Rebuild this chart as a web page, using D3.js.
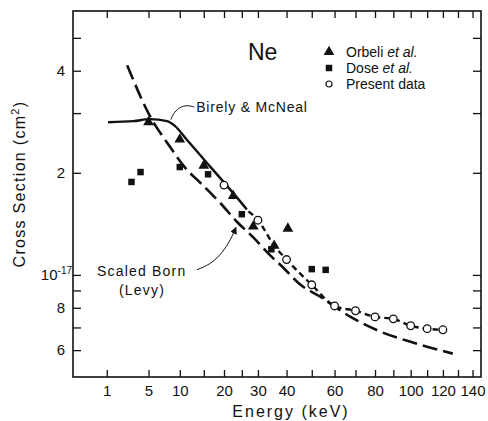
<!DOCTYPE html>
<html>
<head>
<meta charset="utf-8">
<script src="https://cdn.jsdelivr.net/npm/d3@7"></script>
<style>
    body { margin: 0; background: #fff; }
    svg { font-family: "Liberation Sans", Arial, Helvetica, sans-serif; }
</style>
</head>
<body>
<div id="chart"></div>
<script>
// Ne ionization cross section vs. energy
// sigma values are in units of 10^-17 cm^2, energies in keV

// Data
// ---------------------------------------------------------

let orbeliE = [5, 10, 15, 22.5, 28.5, 35.5, 40.5];
let orbeliS = [2.82, 2.51, 2.10, 1.71, 1.39, 1.22, 1.37];

let doseE = [3, 4, 10, 16, 25, 34.5, 50, 56];
let doseS = [1.88, 2.01, 2.08, 1.98, 1.51, 1.19, 1.04, 1.035];

let presentE = [20, 30, 40, 50, 60, 70, 80, 90, 100, 110, 120];
let presentS = [1.84, 1.45, 1.11, 0.935, 0.81, 0.784, 0.752, 0.742, 0.708, 0.694, 0.689];

// dashed line drawn through the present data
let presentLineE = [27, 30, 35.5, 40, 50, 60, 70, 80, 90, 100, 110, 120];
let presentLineS = [1.54, 1.45, 1.22, 1.11, 0.935, 0.81, 0.784, 0.752, 0.742, 0.708, 0.694, 0.689];

let birelyE = [1.08, 3.2, 5.2, 7.75, 9.1, 11.4, 13.5, 17.2, 20.8, 23.6, 26.5];
let birelyS = [2.82, 2.84, 2.88, 2.84, 2.75, 2.50, 2.31, 2.04, 1.83, 1.69, 1.56];

let bornE = [2.57, 5.5, 7.8, 11.4, 14.2, 19.0, 23.7, 28.5, 34.2, 38.8, 45.4, 52.9, 67.6, 83, 101.8, 126.5];
let bornS = [4.15, 2.86, 2.45, 2.04, 1.87, 1.63, 1.43, 1.29, 1.14, 1.05, 0.935, 0.868, 0.752, 0.680, 0.631, 0.586];

let xTicks = [1, 5, 10, 15, 20, 25, 30, 40, 50, 60, 70, 80, 90, 100, 110, 120, 130, 140];
let xTickLabels = [1, 5, 10, 20, 30, 40, 60, 80, 100, 120, 140];
let yTicks = [0.6, 0.7, 0.8, 0.9, 1, 2, 3, 4, 5];
let yTickLabels = {0.6: "6", 0.8: "8", 1: "10", 2: "2", 4: "4"};

let legendNames = ["Orbeli", "Dose", "Present data"];

// Layout
// ---------------------------------------------------------

let width = 488,
    height = 421,
    plotLeft = 73,
    plotRight = 481,
    plotTop = 11,
    plotBottom = 377;

let svg = d3.select("#chart").append("svg")
    .attr("width", width)
    .attr("height", height);

// Scales
// ---------------------------------------------------------

let x = d3.scaleSqrt()
    .domain([0, 146])
    .range([plotLeft, plotRight]);

let y = d3.scaleLog()
    .domain([0.5, 6])
    .range([plotBottom, plotTop]);

let zip = (xs, ys) => xs.map((v, i) => ({e: v, s: ys[i]}));

// Axes
// ---------------------------------------------------------

let xAxis = d3.axisBottom(x)
    .tickValues(xTicks)
    .tickSizeInner(-7)
    .tickSizeOuter(0)
    .tickPadding(8)
    .tickFormat(d => xTickLabels.includes(d) ? d : "");

svg.append("g")
    .attr("transform", `translate(0,${plotBottom})`)
    .call(xAxis);

svg.append("g")
    .attr("transform", `translate(0,${plotTop})`)
    .call(d3.axisTop(x).tickValues(xTicks).tickSizeInner(-7).tickSizeOuter(0).tickFormat(""));

let yAxis = d3.axisLeft(y)
    .tickValues(yTicks)
    .tickSizeInner(-8)
    .tickSizeOuter(0)
    .tickPadding(8)
    .tickFormat(d => yTickLabels[d] || "");

let gy = svg.append("g")
    .attr("transform", `translate(${plotLeft},0)`)
    .call(yAxis);

svg.append("g")
    .attr("transform", `translate(${plotRight},0)`)
    .call(d3.axisRight(y).tickValues(yTicks).tickSizeInner(-8).tickSizeOuter(0).tickFormat(""));

svg.selectAll(".tick line")
    .attr("stroke", "#111")
    .attr("stroke-width", 1.3);

svg.selectAll(".domain").remove();

svg.selectAll(".tick text")
    .attr("font-size", 15)
    .attr("fill", "#111")
    .attr("font-family", "'Liberation Sans', Arial, sans-serif");

// 10^-17 label
gy.selectAll(".tick text")
    .filter(d => d === 1)
    .attr("x", -1)
    .append("tspan")
        .attr("font-size", 10)
        .attr("dy", "-0.6em")
        .text("-17");

// frame
svg.append("rect")
    .attr("x", plotLeft)
    .attr("y", plotTop)
    .attr("width", plotRight - plotLeft)
    .attr("height", plotBottom - plotTop)
    .attr("fill", "none")
    .attr("stroke", "#111")
    .attr("stroke-width", 1.6);

// axis titles
svg.append("text")
    .attr("x", 291)
    .attr("y", 417)
    .attr("text-anchor", "middle")
    .attr("font-size", 16)
    .attr("letter-spacing", 2)
    .attr("fill", "#111")
    .text("Energy (keV)");

svg.append("text")
    .attr("transform", "translate(25,184) rotate(-90)")
    .attr("text-anchor", "middle")
    .attr("font-size", 16)
    .attr("letter-spacing", 1.3)
    .attr("fill", "#111")
    .html("Cross Section (cm<tspan font-size='11' dy='-6'>2</tspan><tspan dy='6'>)</tspan>");

// Curves
// ---------------------------------------------------------

let lineGen = d3.line()
    .x(d => x(d.e))
    .y(d => y(d.s))
    .curve(d3.curveMonotoneX);

svg.append("path")
    .datum(zip(bornE, bornS))
    .attr("d", lineGen)
    .attr("fill", "none")
    .attr("stroke", "#111")
    .attr("stroke-width", 2.6)
    .attr("stroke-dasharray", "15,6");

svg.append("path")
    .datum(zip(birelyE, birelyS))
    .attr("d", lineGen)
    .attr("fill", "none")
    .attr("stroke", "#111")
    .attr("stroke-width", 2.4);

svg.append("path")
    .datum(zip(presentLineE, presentLineS))
    .attr("d", lineGen)
    .attr("fill", "none")
    .attr("stroke", "#111")
    .attr("stroke-width", 2.4)
    .attr("stroke-dasharray", "6,4");

// Points
// ---------------------------------------------------------

let tri = d3.symbol(d3.symbolTriangle).size(50);
let sq = d3.symbol(d3.symbolSquare).size(42);

svg.selectAll(".dose")
    .data(zip(doseE, doseS))
    .enter()
    .append("path")
        .attr("class", "dose")
        .attr("transform", d => `translate(${x(d.e)},${y(d.s)})`)
        .attr("d", sq)
        .attr("fill", "#111");

svg.selectAll(".orbeli")
    .data(zip(orbeliE, orbeliS))
    .enter()
    .append("path")
        .attr("class", "orbeli")
        .attr("transform", d => `translate(${x(d.e)},${y(d.s)})`)
        .attr("d", tri)
        .attr("fill", "#111");

svg.selectAll(".present")
    .data(zip(presentE, presentS))
    .enter()
    .append("circle")
        .attr("class", "present")
        .attr("cx", d => x(d.e))
        .attr("cy", d => y(d.s))
        .attr("r", 3.8)
        .attr("fill", "#fff")
        .attr("stroke", "#111")
        .attr("stroke-width", 1.3);

// Labels and legend
// ---------------------------------------------------------

svg.append("text")
    .attr("x", 248)
    .attr("y", 60)
    .attr("font-size", 23)
    .attr("fill", "#111")
    .text("Ne");

let legend = svg.append("g")
    .attr("transform", "translate(329,52)");

legend.selectAll(".legendText")
    .data(legendNames)
    .enter()
    .append("text")
        .attr("class", "legendText")
        .attr("x", 17)
        .attr("y", (d, i) => i * 16 + 5)
        .attr("font-size", 14)
        .attr("fill", "#111")
        .each(function(d, i) {
            let t = d3.select(this);
            t.append("tspan").text(d);
            if (i < 2) t.append("tspan").attr("font-style", "italic").text(" et al.");
        });

legend.append("path").attr("d", tri).attr("fill", "#111");
legend.append("path").attr("d", sq).attr("fill", "#111")
    .attr("transform", "translate(0,16)");
legend.append("circle").attr("cy", 32).attr("r", 3).attr("fill", "#fff")
    .attr("stroke", "#111").attr("stroke-width", 1.2);

// Birely & McNeal note
let bx = x(13.3), by = y(3.02);
svg.append("text")
    .attr("x", bx)
    .attr("y", by)
    .attr("font-size", 14)
    .attr("letter-spacing", 0.8)
    .attr("fill", "#111")
    .text("Birely & McNeal");

let bEnd = [x(8.4), y(2.83)];
svg.append("path")
    .attr("d", `M${bx - 2},${by - 5} C${bx - 12},${by - 9} ${bEnd[0] + 4},${by - 4} ${bEnd[0]},${bEnd[1] - 2}`)
    .attr("fill", "none")
    .attr("stroke", "#111")
    .attr("stroke-width", 1);

// Scaled Born note
let sx = x(0.505), sy = y(0.995);
svg.append("text")
    .attr("x", sx)
    .attr("y", sy)
    .attr("font-size", 14)
    .attr("letter-spacing", 1.2)
    .attr("fill", "#111")
    .text("Scaled Born");

svg.append("text")
    .attr("x", sx + 45)
    .attr("y", sy + 19)
    .attr("text-anchor", "middle")
    .attr("font-size", 14)
    .attr("letter-spacing", 1.2)
    .attr("fill", "#111")
    .text("(Levy)");

let aEnd = [x(23.3), y(1.38)];
svg.append("defs").append("marker")
    .attr("id", "arrow")
    .attr("viewBox", "0 0 10 10")
    .attr("refX", 9)
    .attr("refY", 5)
    .attr("markerWidth", 7)
    .attr("markerHeight", 7)
    .attr("orient", "auto")
    .append("path")
        .attr("d", "M0,0 L10,5 L0,10 z")
        .attr("fill", "#111");

svg.append("path")
    .attr("d", `M${sx + 100},${sy - 6} C${sx + 118},${sy - 12} ${aEnd[0] - 10},${aEnd[1] + 24} ${aEnd[0]},${aEnd[1]}`)
    .attr("fill", "none")
    .attr("stroke", "#111")
    .attr("stroke-width", 1)
    .attr("marker-end", "url(#arrow)");
</script>
</body>
</html>
